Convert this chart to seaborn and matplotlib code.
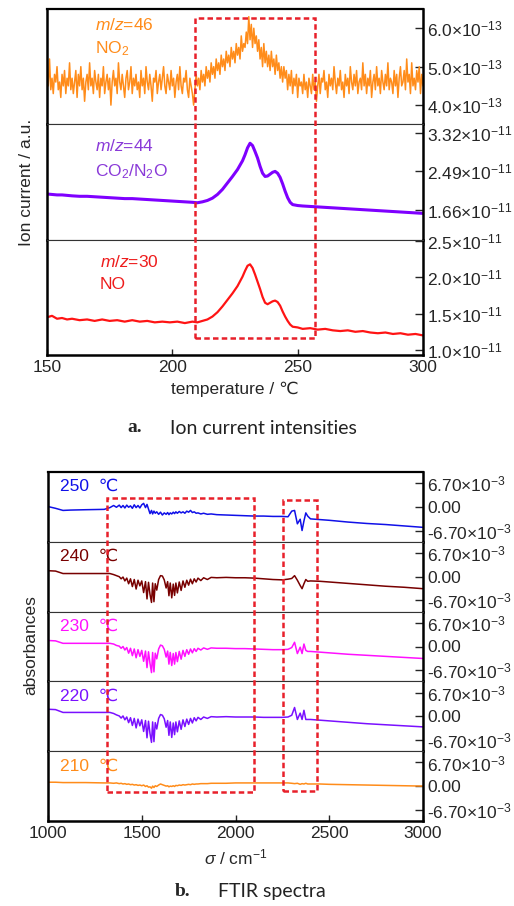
import numpy as np
import seaborn as sns
import matplotlib.pyplot as plt
from matplotlib.patches import Rectangle

sns.set_style("white")
plt.rcParams['font.family'] = ['Liberation Sans', 'DejaVu Sans']
plt.rcParams['mathtext.fontset'] = 'custom'
plt.rcParams['mathtext.rm'] = 'Liberation Sans'
plt.rcParams['mathtext.it'] = 'Liberation Sans:italic'
plt.rcParams['mathtext.bf'] = 'Liberation Sans:bold'

# ---- panel a: ion currents ----
temp_no2 = np.arange(150, 300.5, 0.5)  # one reading every half degree
no2_e13 = [
    # 150 - 208.5
    4.9, 4.5, 5.2, 4.4, 4.7, 4.3, 4.8, 4.6, 5.0, 4.4,
    4.6, 4.2, 4.8, 4.5, 4.9, 4.3, 4.7, 4.5, 5.1, 4.4,
    4.7, 4.3, 4.6, 4.9, 4.2, 4.8, 4.5, 5.0, 4.4, 4.7,
    4.1, 4.6, 4.8, 4.4, 5.1, 4.5, 4.7, 4.3, 4.9, 4.6,
    4.4, 4.8, 4.2, 4.7, 4.5, 5.0, 4.3, 4.6, 4.8, 4.4,
    4.7, 4.0, 4.6, 4.9, 4.5, 4.7, 4.3, 5.1, 4.6, 4.4,
    4.8, 4.5, 4.2, 4.7, 4.9, 4.4, 4.6, 5.0, 4.3, 4.7,
    4.5, 4.8, 4.4, 4.6, 4.2, 4.9, 4.5, 4.7, 4.3, 5.0,
    4.6, 4.4, 4.8, 4.5, 4.1, 4.7, 4.6, 4.9, 4.3, 4.6,
    4.8, 4.4, 4.7, 5.0, 4.5, 4.3, 4.8, 4.6, 4.4, 4.9,
    4.5, 4.7, 4.2, 4.6, 4.8, 4.4, 5.0, 4.5, 4.3, 4.7,
    4.6, 4.9, 4.4, 4.2, 4.7, 4.5, 4.3, 4.0,
    # 209 - 257.5
    4.4, 4.8, 4.5, 4.7, 4.4, 4.9, 4.6, 4.8, 4.5, 5.0,
    4.7, 4.9, 4.6, 5.1, 4.8, 5.0, 4.7, 5.2, 4.9, 5.1,
    4.8, 5.3, 5.0, 5.2, 4.9, 5.4, 5.1, 5.3, 5.0, 5.5,
    5.2, 5.4, 5.1, 5.6, 5.3, 5.5, 5.2, 5.8, 5.4, 5.6,
    5.5, 5.9, 5.6, 6.3, 5.7, 6.1, 5.5, 6.0, 5.6, 5.8,
    5.4, 5.7, 5.2, 5.5, 5.0, 5.6, 5.1, 5.4, 5.0, 5.3,
    4.9, 5.4, 5.0, 5.2, 4.8, 5.3, 4.9, 5.1, 4.7, 5.0,
    4.6, 5.0, 4.7, 4.9, 4.4, 4.8, 4.5, 4.9, 4.3, 4.7,
    4.5, 4.8, 4.2, 4.7, 4.5, 4.6, 4.3, 4.8, 4.4, 4.6,
    4.2, 4.7, 4.5, 4.3, 4.8, 4.4, 4.6, 4.1,
    # 258 - 300
    4.5, 4.8, 4.3, 4.7, 4.6, 4.9, 4.4, 4.6, 4.2, 4.8,
    4.5, 4.7, 4.4, 5.0, 4.6, 4.3, 4.7, 4.5, 4.9, 4.4,
    4.6, 4.2, 4.8, 4.5, 4.7, 4.3, 5.0, 4.6, 4.4, 4.8,
    4.5, 4.9, 4.3, 4.6, 4.7, 4.4, 5.1, 4.5, 4.8, 4.3,
    4.7, 4.5, 4.9, 4.2, 4.6, 4.8, 4.4, 5.0, 4.5, 4.7,
    4.3, 4.9, 4.6, 4.4, 4.8, 4.5, 5.1, 4.4, 4.7, 4.6,
    4.3, 4.9, 4.5, 4.8, 4.2, 4.7, 5.0, 4.5, 4.6, 4.9,
    4.4, 5.2, 4.6, 4.8, 4.3, 5.1, 4.5, 4.7, 4.4, 4.9,
    4.6, 5.0, 4.3, 4.8, 4.5]

temp_ms = [150, 152, 154, 156, 158, 160, 163, 166, 169, 172, 175, 178, 181, 184,
           187, 190, 193, 196, 199, 202, 205, 208, 210, 212, 214, 216, 218, 220,
           222, 224, 226, 228, 229, 230, 231, 232, 233, 234, 235, 236, 237, 238,
           239, 240, 241, 242, 243, 244, 245, 246, 247, 248, 250, 252, 255, 258,
           261, 264, 267, 270, 273, 276, 279, 282, 285, 288, 291, 294, 297, 300]
co2_e11 = [2.00, 1.99, 1.98, 1.98, 1.97, 1.96, 1.95, 1.95, 1.94, 1.93, 1.92, 1.91,
           1.90, 1.90, 1.89, 1.88, 1.87, 1.86, 1.85, 1.84, 1.83, 1.82, 1.81, 1.83,
           1.86, 1.91, 1.99, 2.10, 2.24, 2.38, 2.53, 2.72, 2.85, 3.00, 3.10, 3.05,
           2.92, 2.78, 2.60, 2.45, 2.38, 2.39, 2.43, 2.47, 2.49, 2.45, 2.36, 2.22,
           2.06, 1.92, 1.82, 1.77, 1.75, 1.74, 1.73, 1.72, 1.71, 1.70, 1.69, 1.68,
           1.67, 1.66, 1.65, 1.64, 1.63, 1.62, 1.61, 1.60, 1.59, 1.58]
no_e11 = [1.45, 1.47, 1.43, 1.44, 1.42, 1.43, 1.41, 1.42, 1.40, 1.42, 1.40, 1.41,
          1.39, 1.41, 1.39, 1.40, 1.38, 1.39, 1.38, 1.39, 1.37, 1.39, 1.38, 1.40,
          1.42, 1.46, 1.52, 1.60, 1.69, 1.78, 1.88, 2.01, 2.09, 2.16, 2.18, 2.13,
          2.04, 1.94, 1.84, 1.73, 1.65, 1.63, 1.65, 1.67, 1.68, 1.66, 1.61, 1.53,
          1.46, 1.40, 1.35, 1.32, 1.31, 1.29, 1.30, 1.28, 1.29, 1.27, 1.26, 1.27,
          1.25, 1.26, 1.24, 1.23, 1.24, 1.22, 1.23, 1.21, 1.22, 1.20]

# ---- panel b: FTIR spectra (absorbance x 1e-3) ----
sigma = [1000, 1040, 1080, 1120, 1200, 1300, 1330, 1350, 1365, 1380, 1390,
         1400, 1410, 1420, 1430, 1440, 1450, 1460, 1470, 1480, 1490, 1500, 1510, 1520,
         1528, 1536, 1544, 1552, 1558, 1565, 1572, 1580, 1590,
         1600, 1610, 1620, 1630,
         1638, 1645, 1652, 1660, 1668, 1675, 1682, 1690,
         1700, 1710, 1720, 1730, 1740, 1750, 1760, 1770, 1780, 1790, 1800,
         1815, 1830, 1850, 1870, 1900, 1950, 2000, 2050, 2100, 2150, 2200, 2250,
         2280, 2300, 2315, 2330, 2345, 2355, 2365, 2375, 2385, 2400,
         2450, 2500, 2600, 2700, 2800, 2900, 3000]
ab_250 = [0.1, -0.4, -1.0, -0.9, -0.8, -0.7, -0.2, 0.4, -0.1, 0.5, -0.2,
          0.4, -0.3, 0.5, -0.1, 0.3, -0.4, 0.6, -0.2, 0.4, -0.3, 0.6, 1.0, -0.2,
          0.7, -0.6, -1.9, -1.0, -2.0, -1.2, -1.8, -1.4, -2.1,
          -1.5, -2.3, -1.7, -2.1,
          -1.6, -2.2, -1.7, -2.0, -1.5, -1.9, -1.4, -1.8,
          -1.3, -1.7, -1.4, -1.8, -1.2, -1.5, -1.0, -1.6, -1.4, -1.8, -1.7,
          -2.0, -1.8, -2.1, -2.0, -2.2, -2.3, -2.4, -2.5, -2.6, -2.6, -2.7, -2.7,
          -2.8, -1.2, -1.0, -4.8, -3.5, -6.7, -4.0, -1.7, -2.6, -3.4,
          -3.6, -3.8, -4.3, -4.7, -5.0, -5.4, -5.8]
ab_240 = [1.7, 1.6, 0.9, 0.9, 0.9, 0.9, 0.9, 0.6, 0.3, 0.0, -0.6,
          -0.1, -1.2, -0.4, -2.0, -0.6, -2.8, -0.8, -3.5, -1.0, -2.6, -1.2, -4.5, -1.4,
          -6.3, -1.6, -5.0, -7.3, -1.8, -7.1, -2.0, -3.8, -0.8,
          0.3, 0.2, -0.9, -3.2,
          -1.4, -5.4, -1.8, -6.0, -2.1, -5.3, -1.8, -4.6,
          -1.5, -3.9, -1.2, -3.0, -1.0, -2.4, -0.7, -2.0, -0.6, -1.5, -0.4,
          -1.1, -0.3, -0.8, -0.2, -0.3, -0.2, -0.3, -0.3, -0.4, -0.6, -0.8, -0.9,
          -0.7, -0.5, 0.3, -1.0, -2.5, -3.4, -2.0, -0.8, -1.3, -1.2,
          -1.3, -1.5, -1.9, -2.3, -2.7, -3.0, -3.4]
ab_230 = [1.7, 1.6, 0.9, 0.9, 0.9, 0.9, 0.9, 0.7, 0.3, 0.1, -0.5,
          0.0, -1.0, -0.3, -1.9, -0.5, -2.6, -0.7, -3.2, -0.9, -2.8, -1.1, -4.2, -1.3,
          -6.0, -1.5, -4.8, -7.4, -1.7, -7.2, -1.9, -3.5, -0.7,
          0.4, 0.2, -0.8, -3.0,
          -1.3, -5.0, -1.7, -5.4, -2.0, -5.0, -1.7, -4.3,
          -1.4, -3.6, -1.1, -2.8, -0.9, -2.2, -0.7, -1.8, -0.6, -1.4, -0.5,
          -1.0, -0.4, -0.8, -0.4, -0.5, -0.5, -0.6, -0.6, -0.7, -0.8, -0.9, -0.9,
          -0.8, -0.3, 1.2, -2.0, -0.2, -2.0, 0.7, -1.1, -1.4, -1.4,
          -1.6, -1.8, -2.2, -2.5, -2.8, -3.1, -3.4]
ab_220 = [2.0, 1.9, 1.1, 1.1, 1.1, 1.1, 1.1, 0.8, 0.4, 0.1, -0.5,
          0.1, -1.0, -0.2, -1.8, -0.4, -2.6, -0.6, -3.3, -0.8, -2.7, -1.0, -4.3, -1.2,
          -6.1, -1.4, -4.9, -7.4, -1.6, -7.2, -1.8, -3.6, -0.6,
          0.5, 0.3, -0.7, -3.1,
          -1.2, -5.4, -1.6, -6.0, -1.9, -5.2, -1.6, -4.4,
          -1.3, -3.7, -1.0, -2.9, -0.8, -2.3, -0.6, -1.9, -0.4, -1.3, -0.3,
          -0.9, -0.2, -0.6, -0.1, -0.2, -0.1, -0.2, -0.2, -0.2, -0.3, -0.3, -0.3,
          -0.2, 0.3, 2.5, -0.9, 0.9, -0.9, 1.7, -0.9, -0.9, -0.9,
          -1.1, -1.3, -1.7, -2.1, -2.4, -2.7, -3.0]
ab_210 = [1.1, 1.1, 1.0, 1.0, 1.0, 0.9, 0.9, 0.8, 0.9, 0.7, 0.8,
          0.6, 0.7, 0.5, 0.6, 0.4, 0.5, 0.3, 0.4, 0.2, 0.3, 0.1, 0.3, -0.1,
          0.1, -0.3, -0.2, -0.6, 0.0, -0.4, 0.1, -0.1, 0.3,
          0.6, 0.4, 0.2, 0.0,
          0.1, -0.2, 0.0, -0.1, 0.1, -0.1, 0.2, 0.1,
          0.3, 0.2, 0.4, 0.3, 0.4, 0.5, 0.4, 0.6, 0.5, 0.6, 0.6,
          0.7, 0.7, 0.7, 0.8, 0.8, 0.8, 0.9, 0.9, 0.9, 0.9, 0.9, 0.9,
          0.9, 0.8, 0.7, 0.8, 0.5, 0.7, 0.6, 0.8, 0.6, 0.6,
          0.6, 0.5, 0.4, 0.3, 0.2, 0.1, 0.0]

spectra = [("250", ab_250, "#1010e8"), ("240", ab_240, "#780000"),
           ("230", ab_230, "#ff10ff"), ("220", ab_220, "#7a10ff"),
           ("210", ab_210, "#ff8c1a")]

box_red = "#e8202a"
fig = plt.figure(figsize=(5.14, 9.06), dpi=100)
W, H = 514, 906


def add_ax(left, top, right, bottom):
    return fig.add_axes([left / W, 1 - bottom / H, (right - left) / W, (bottom - top) / H])


def style(ax, xlim, ylim, yticks, ylabels, is_bottom, is_top):
    ax.set_xlim(*xlim)
    ax.set_ylim(*ylim)
    ax.yaxis.tick_right()
    ax.set_yticks(yticks)
    ax.set_yticklabels(ylabels)
    ax.tick_params(axis='y', direction='in', length=6, width=1, labelsize=12.5,
                   pad=3, left=False, right=True)
    ax.tick_params(axis='x', direction='in', length=4, width=1, labelsize=12.5,
                   bottom=is_bottom, labelbottom=is_bottom, top=False)
    ax.set_xlabel('')
    ax.set_ylabel('')
    for s in ['left', 'right']:
        ax.spines[s].set_linewidth(1.8)
        ax.spines[s].set_color('black')
    ax.spines['top'].set_linewidth(1.6 if is_top else 0.8)
    ax.spines['bottom'].set_linewidth(1.8 if is_bottom else 0.8)
    ax.spines['top'].set_color('black' if is_top else '#333333')
    ax.spines['bottom'].set_color('black' if is_bottom else '#333333')


def sci(m, e):
    return f"{m}×10$^{{{e}}}$"


def dashed_box(ax_top, ax_bot, x0, x1, ytop, ybot):
    inv = fig.transFigure.inverted()
    fx0, fy1 = inv.transform(ax_top.transData.transform((x0, ytop)))
    fx1, fy0 = inv.transform(ax_bot.transData.transform((x1, ybot)))
    fig.add_artist(Rectangle((fx0, fy0), fx1 - fx0, fy1 - fy0, transform=fig.transFigure,
                             fill=False, ec=box_red, lw=1.8, ls=(0, (2.2, 1.3)), zorder=10))


# panel a
a_top, a_bot = 9, 355
ha = (a_bot - a_top) / 3
ax1 = add_ax(47, a_top, 423, a_top + ha)
ax2 = add_ax(47, a_top + ha, 423, a_top + 2 * ha)
ax3 = add_ax(47, a_top + 2 * ha, 423, a_bot)

sns.lineplot(x=temp_no2, y=no2_e13, ax=ax1, color="#ff8c1a", linewidth=1.1, estimator=None)
sns.lineplot(x=temp_ms, y=co2_e11, ax=ax2, color="#7f00ff", linewidth=2.2, estimator=None)
sns.lineplot(x=temp_ms, y=no_e11, ax=ax3, color="#ff1414", linewidth=1.6, estimator=None)

style(ax1, (150, 300), (3.5, 6.5), [4.0, 5.0, 6.0],
      [sci("4.0", -13), sci("5.0", -13), sci("6.0", -13)], False, True)
style(ax2, (150, 300), (1.01, 3.51), [1.66, 2.49, 3.32],
      [sci("1.66", -11), sci("2.49", -11), sci("3.32", -11)], False, False)
style(ax3, (150, 300), (0.93, 2.52), [1.0, 1.5, 2.0, 2.5],
      [sci("1.0", -11), sci("1.5", -11), sci("2.0", -11), sci("2.5", -11)], True, False)
ax3.set_xticks([150, 200, 250, 300])
ax3.set_xlabel("temperature / ℃", fontsize=12.5, labelpad=5)

ax1.text(0.128, 0.86, "$m$/$z$=46", transform=ax1.transAxes, color="#ff8c1a", fontsize=12.5, va='center')
ax1.text(0.128, 0.66, "NO$_2$", transform=ax1.transAxes, color="#ff8c1a", fontsize=12.5, va='center')
ax2.text(0.128, 0.81, "$m$/$z$=44", transform=ax2.transAxes, color="#8a3ad8", fontsize=12.5, va='center')
ax2.text(0.128, 0.59, "CO$_2$/N$_2$O", transform=ax2.transAxes, color="#8a3ad8", fontsize=12.5, va='center')
ax3.text(0.141, 0.81, "$m$/$z$=30", transform=ax3.transAxes, color="#ee1c1c", fontsize=12.5, va='center')
ax3.text(0.141, 0.61, "NO", transform=ax3.transAxes, color="#ee1c1c", fontsize=12.5, va='center')

fig.text(27 / W, 1 - 182 / H, "Ion current / a.u.", rotation=90, fontsize=12.5, ha='center', va='center')
dashed_box(ax1, ax3, 209, 257, 6.26, 1.17)

fig.text(127 / W, 1 - 428 / H, "a.", fontsize=14, fontweight='bold', family='Liberation Serif', va='center')
fig.text(170 / W, 1 - 428 / H, "Ion current intensities", fontsize=14, family='Lato', va='center', color='#222222')

# panel b
b_top, b_bot = 472, 821
hb = (b_bot - b_top) / 5
axes_b = []
for i, (lab, vals, col) in enumerate(spectra):
    ax = add_ax(48, b_top + i * hb, 423, b_top + (i + 1) * hb)
    sns.lineplot(x=sigma, y=vals, ax=ax, color=col, linewidth=1.1, estimator=None)
    style(ax, (1000, 3000), (-9.9, 9.9), [-6.7, 0, 6.7],
          ["-6.70×10$^{-3}$", "0.00", "6.70×10$^{-3}$"], i == 4, i == 0)
    ax.text(0.032, 0.79, f"{lab}  ℃", transform=ax.transAxes, color=col, fontsize=12.5, va='center')
    axes_b.append(ax)

axes_b[-1].set_xticks([1000, 1500, 2000, 2500, 3000])
axes_b[-1].set_xlabel("$\\sigma$ / cm$^{-1}$", fontsize=12.5, labelpad=5)
fig.text(31 / W, 1 - 645 / H, "absorbances", rotation=90, fontsize=12.5, ha='center', va='center')

dashed_box(axes_b[0], axes_b[-1], 1315, 2100, 2.6, -1.6)
dashed_box(axes_b[0], axes_b[-1], 2251, 2433, 1.85, -1.3)

fig.text(175 / W, 1 - 892 / H, "b.", fontsize=14, fontweight='bold', family='Liberation Serif', va='center')
fig.text(218 / W, 1 - 892 / H, "FTIR spectra", fontsize=14, family='Lato', va='center', color='#222222')

fig.savefig("out.png", dpi=100)
